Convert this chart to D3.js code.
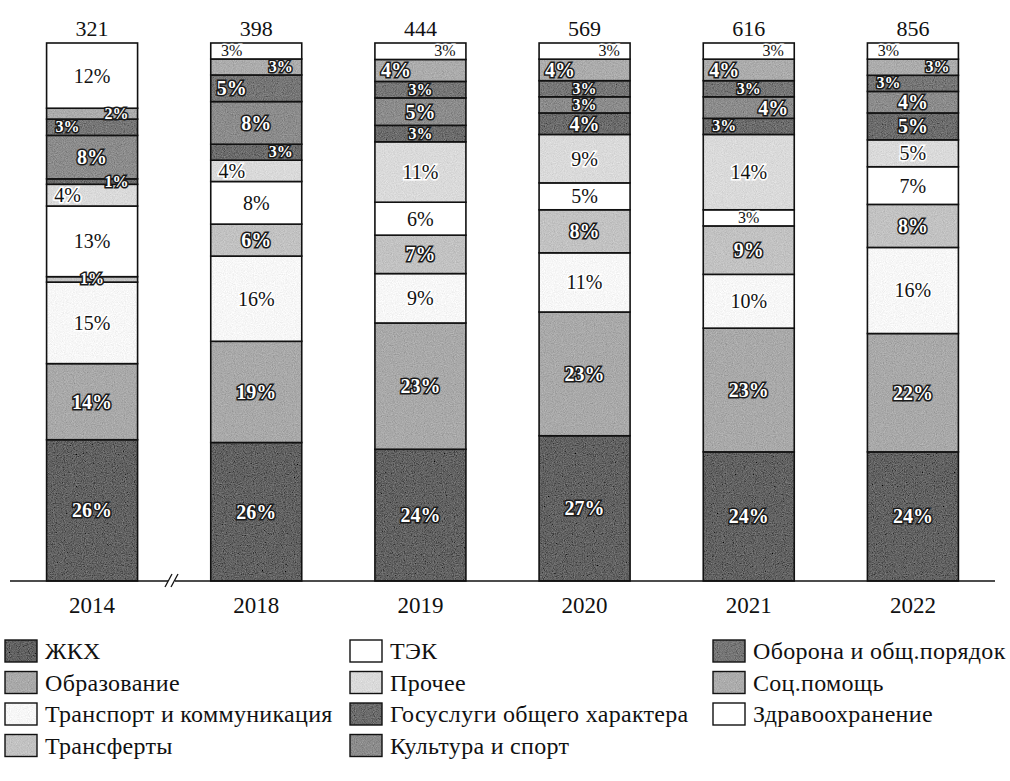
<!DOCTYPE html>
<html>
<head>
<meta charset="utf-8">
<script src="https://cdn.jsdelivr.net/npm/d3@7"></script>
<style>
  html, body { margin: 0; padding: 0; background: #fff; }
  svg { display: block; font-family: "Liberation Serif", "DejaVu Serif", serif; }
</style>
</head>
<body>
<svg id="chart" width="1010" height="781"></svg>
<script>
// Budget spending structure by sector, shares of the annual total
const years = ["2014", "2018", "2019", "2020", "2021", "2022"];
const totals = [321, 398, 444, 569, 616, 856];
const categories = [
  "ЖКХ", "Образование", "Транспорт и коммуникация", "Трансферты",
  "ТЭК", "Прочее", "Госуслуги общего характера", "Культура и спорт",
  "Оборона и общ.порядок", "Соц.помощь", "Здравоохранение"
];
// Percent shares per category, one value per year
const zhkh       = [26, 26, 24, 27, 24, 24];
const education  = [14, 19, 23, 23, 23, 22];
const transport  = [15, 16,  9, 11, 10, 16];
const transfers  = [ 1,  6,  7,  8,  9,  8];
const tek        = [13,  8,  6,  5,  3,  7];
const other      = [ 4,  4, 11,  9, 14,  5];
const govServ    = [ 1,  3,  3,  4,  3,  5];
const culture    = [ 8,  8,  5,  3,  4,  4];
const defense    = [ 3,  5,  3,  3,  3,  3];
const social     = [ 2,  3,  4,  4,  4,  3];
const health     = [12,  3,  3,  3,  3,  3];
const series = [zhkh, education, transport, transfers, tek, other,
                govServ, culture, defense, social, health];

// Label placement inside each segment: c = centre, l = left, r = right
const labelAlign = [
  ["c","c","c","c","c","c"],
  ["c","c","c","c","c","c"],
  ["c","c","c","c","c","c"],
  ["c","c","c","c","c","c"],
  ["c","c","c","c","c","c"],
  ["l","l","c","c","c","c"],
  ["r","r","c","c","l","c"],
  ["c","c","c","c","r","c"],
  ["l","l","c","c","c","l"],
  ["r","r","l","l","l","r"],
  ["c","l","r","r","r","l"]
];

const fills = ["#626262", "#a9a9a9", "#f7f7f7", "#c2c2c2", "#ffffff", "#dadada",
               "#6c6c6c", "#8c8c8c", "#767676", "#acacac", "#ffffff"];
const darkText = [false, false, true, false, true, true, false, false, false, false, true];

const table = years.map((y, i) => {
  const row = { year: y };
  categories.forEach((c, k) => { row[c] = series[k][i]; });
  return row;
});

const svg = d3.select("#chart");
const defs = svg.append("defs");
// Fine print-like grain over the gray fills
const grain = defs.append("filter").attr("id", "grain")
  .attr("x", 0).attr("y", 0).attr("width", "100%").attr("height", "100%");
grain.append("feTurbulence").attr("type", "fractalNoise")
  .attr("baseFrequency", 0.9).attr("numOctaves", 2).attr("seed", 7).attr("result", "noise");
grain.append("feColorMatrix").attr("in", "noise").attr("type", "matrix")
  .attr("values", "0.33 0.33 0.33 0 0  0.33 0.33 0.33 0 0  0.33 0.33 0.33 0 0  0 0 0 0 1")
  .attr("result", "gray");
grain.append("feComposite").attr("in", "SourceGraphic").attr("in2", "gray")
  .attr("operator", "arithmetic").attr("k1", 0).attr("k2", 1).attr("k3", 0.5).attr("k4", -0.25)
  .attr("result", "mix");
grain.append("feComposite").attr("in", "mix").attr("in2", "SourceGraphic").attr("operator", "in");

const x = d3.scalePoint().domain(years).range([10, 995]).padding(0.5);
const barW = 91;
const y = d3.scaleLinear().domain([0, 1]).range([581, 43]);

const stack = d3.stack().keys(categories).offset(d3.stackOffsetExpand);
const layers = stack(table);

const gBars = svg.append("g");
layers.forEach((layer, k) => {
  const g = gBars.append("g");
  g.selectAll("rect").data(layer).join("rect")
    .attr("x", d => x(d.data.year) - barW / 2)
    .attr("y", d => y(d[1]))
    .attr("width", barW)
    .attr("height", d => y(d[0]) - y(d[1]))
    .attr("fill", fills[k])
    .attr("filter", fills[k] === "#ffffff" ? null : "url(#grain)");
  g.selectAll("rect.edge").data(layer).join("rect")
    .attr("class", "edge")
    .attr("x", d => x(d.data.year) - barW / 2)
    .attr("y", d => y(d[1]))
    .attr("width", barW)
    .attr("height", d => y(d[0]) - y(d[1]))
    .attr("fill", "none")
    .attr("stroke", "#111")
    .attr("stroke-width", 1.6);
});

// Segment labels
const gLab = svg.append("g").attr("text-anchor", "middle");
layers.forEach((layer, k) => {
  layer.forEach((d, i) => {
    const v = series[k][i];
    const small = v <= 3;
    const cx = x(d.data.year);
    const a = labelAlign[k][i];
    const lx = a === "l" ? cx - barW / 2 + 21 : a === "r" ? cx + barW / 2 - 21 : cx;
    const ly = (y(d[0]) + y(d[1])) / 2 + (small ? 5 : 7);
    const t = gLab.append("text").attr("x", lx).attr("y", ly)
      .attr("font-size", small ? 16 : 20)
      .text(v + "%");
    if (darkText[k]) {
      t.attr("fill", "#111").attr("stroke", "#fff").attr("stroke-width", 3)
        .attr("paint-order", "stroke");
    } else {
      t.attr("fill", "#fff").attr("stroke", "#1a1a1a").attr("stroke-width", 3)
        .attr("paint-order", "stroke").attr("font-weight", "bold");
    }
  });
});

// Totals above bars
svg.append("g").selectAll("text").data(years).join("text")
  .attr("x", d => x(d)).attr("y", 36)
  .attr("text-anchor", "middle").attr("font-size", 22).attr("fill", "#111")
  .text((d, i) => totals[i]);

// Baseline with axis break
svg.append("line").attr("x1", 10).attr("x2", 995).attr("y1", 581).attr("y2", 581)
  .attr("stroke", "#111").attr("stroke-width", 1.6);
const brk = svg.append("g").attr("transform", "translate(172,581)");
brk.append("rect").attr("x", -4).attr("y", -3).attr("width", 7).attr("height", 6).attr("fill", "#fff");
[-3, 3].forEach(dx => brk.append("line")
  .attr("x1", dx - 4).attr("y1", 6).attr("x2", dx + 3).attr("y2", -7)
  .attr("stroke", "#111").attr("stroke-width", 1.3));

// Year labels
svg.append("g").selectAll("text").data(years).join("text")
  .attr("x", d => x(d)).attr("y", 613)
  .attr("text-anchor", "middle").attr("font-size", 23).attr("fill", "#111")
  .text(d => d);

// Legend: three columns filled top to bottom
const legCols = [5, 350, 713];
const legRowH = 31.5;
const legend = svg.append("g");
categories.forEach((c, k) => {
  const col = Math.floor(k / 4), row = k % 4;
  const lx = legCols[col], ly = 640 + row * legRowH;
  const g = legend.append("g").attr("transform", `translate(${lx},${ly})`);
  g.append("rect").attr("width", 32).attr("height", 22)
    .attr("fill", fills[k])
    .attr("filter", fills[k] === "#ffffff" ? null : "url(#grain)");
  g.append("rect").attr("width", 32).attr("height", 22)
    .attr("fill", "none").attr("stroke", "#111").attr("stroke-width", 1.4);
  g.append("text").attr("x", 40).attr("y", 19).attr("font-size", 24)
    .attr("letter-spacing", 0.3).attr("fill", "#111").text(c);
});
</script>
</body>
</html>
